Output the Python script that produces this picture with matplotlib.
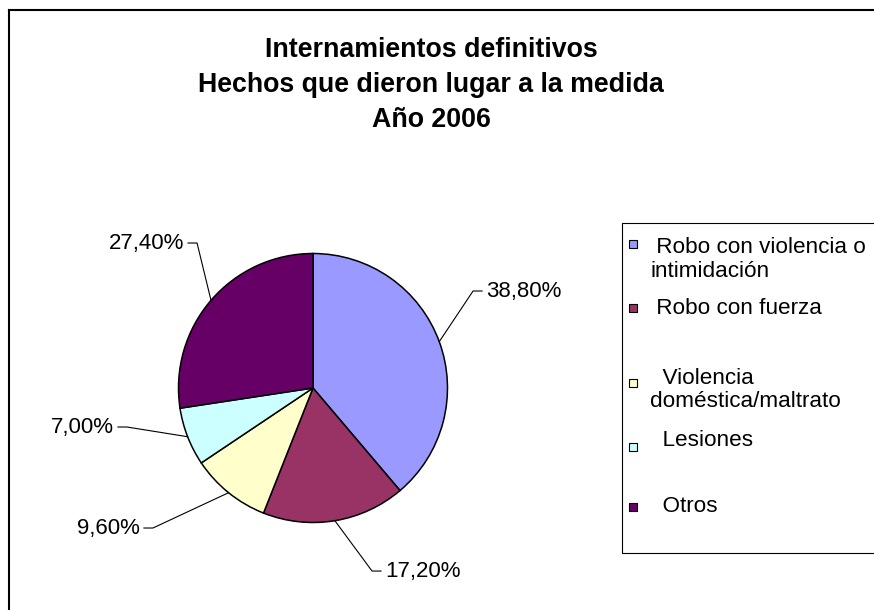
import numpy as np
import matplotlib
matplotlib.use("Agg")
import matplotlib.pyplot as plt
from matplotlib.patches import Rectangle
from matplotlib.lines import Line2D

# ---------------------------------------------------------------- data
title = "Internamientos definitivos\nHechos que dieron lugar a la medida\nAño 2006"
legend_labels = [" Robo con violencia o\nintimidación", " Robo con fuerza",
                 "  Violencia\ndoméstica/maltrato", "  Lesiones", "  Otros"]
shares = [38.8, 17.2, 9.6, 7.0, 27.4]
colors = ["#9999FF", "#993366", "#FFFFCC", "#CCFFFF", "#660066"]

# ---------------------------------------------------------------- layout (pixels)
W, H = 874, 610
CX, CY, R = 313, 388, 134.5
# elbow of each leader line, in pie-radius units
elbows = [(1.19, 0.721), (0.439, -1.361), (-1.190, -1.041), (-1.383, -0.290), (-0.862, 1.078)]
leg_marker_y = [244, 308, 383, 447, 507]
leg_text_y = [259.5, 308, 390, 440, 507]

plt.rcParams["font.family"] = ["Liberation Sans", "DejaVu Sans"]

fig = plt.figure(figsize=(W / 100, H / 100), dpi=100)
ax = fig.add_axes([0, 0, 1, 1])
wedges, _ = ax.pie(shares, colors=colors, startangle=90, counterclock=False, radius=1,
                   wedgeprops=dict(edgecolor="black", linewidth=1.1))
ax.set_xlim(-CX / R, (W - CX) / R)
ax.set_ylim(-(H - CY) / R, CY / R)
ax.set_aspect("equal")
ax.axis("off")

stub = 9 / R
gap = 4 / R
for w, v, (ex, ey) in zip(wedges, shares, elbows):
    mid = np.deg2rad((w.theta1 + w.theta2) / 2)
    px, py = np.cos(mid), np.sin(mid)
    side = 1 if ex > 0 else -1
    ax.plot([px, ex, ex + side * stub], [py, ey, ey], color="black", lw=0.8)
    ax.text(ex + side * (stub + gap), ey, f"{v:.2f}%".replace(".", ","),
            ha="left" if side > 0 else "right", va="center", fontsize=16)

fig.text(431 / W, 1 - 37 / H, title, ha="center", va="top", fontsize=19.3,
         fontweight="bold", linespacing=1.45)

# outer frame (top and left edges visible)
fig.add_artist(Line2D([9 / W, 1], [1 - 10 / H, 1 - 10 / H], color="black", lw=1.5,
                      transform=fig.transFigure))
fig.add_artist(Line2D([9 / W, 9 / W], [0, 1 - 10 / H], color="black", lw=1.5,
                      transform=fig.transFigure))

# legend box
fig.add_artist(Rectangle((622 / W, 1 - 553 / H), 260 / W, 330 / H, fill=False,
                         edgecolor="black", lw=0.8, transform=fig.transFigure))
for lab, c, my, ty in zip(legend_labels, colors, leg_marker_y, leg_text_y):
    fig.add_artist(Rectangle((629 / W, 1 - (my + 4) / H), 8 / W, 8 / H, facecolor=c,
                             edgecolor="black", lw=0.8, transform=fig.transFigure))
    fig.text(650 / W, 1 - ty / H, lab, ha="left", va="center", fontsize=16.2,
             linespacing=1.15)

fig.savefig("out.png", dpi=100)
